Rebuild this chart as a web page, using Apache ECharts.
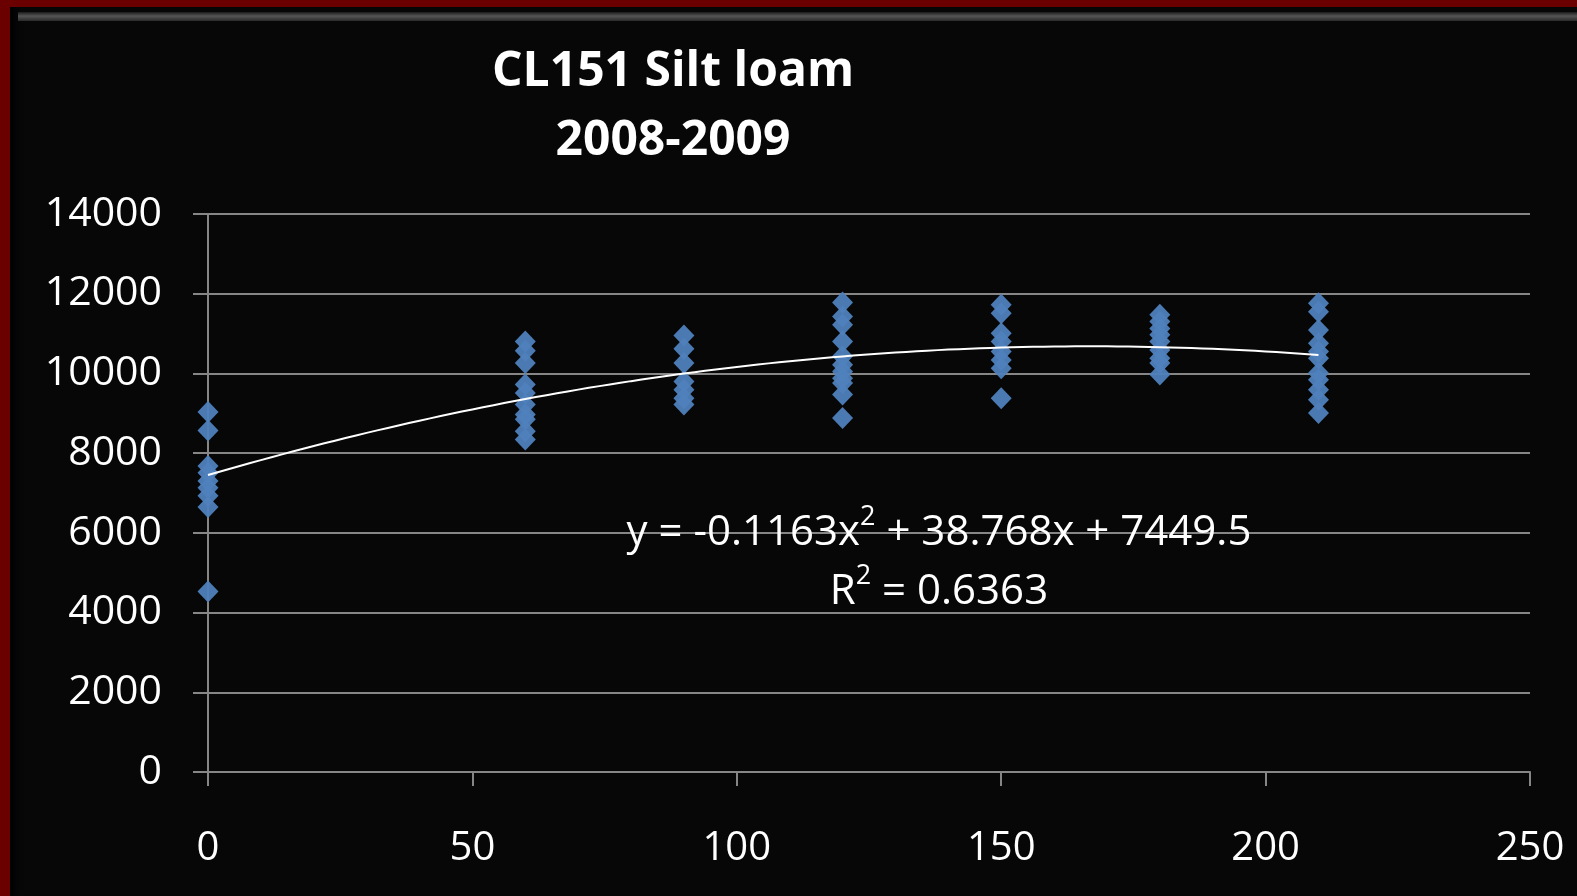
<!DOCTYPE html>
<html>
<head>
<meta charset="utf-8">
<title>CL151 Silt loam 2008-2009</title>
<script src="https://cdn.jsdelivr.net/npm/echarts@6/dist/echarts.min.js"></script>
<style>
  html, body { margin: 0; padding: 0; width: 1577px; height: 896px; background: #6b0000; overflow: hidden; }
  /* black slide panel with a faint bevel on top and left */
  #panel {
    position: absolute; left: 10px; top: 7px; right: 0; bottom: 0;
    background: #070707;
    box-shadow: inset 8px 0 8px -4px #000;
  }
  #bevel {
    position: absolute; left: 18px; top: 12px; right: 0; height: 9px;
    background: linear-gradient(#1a1a1a, #555 45%, #2a2a2a);
  }
  #chart { position: absolute; left: 0; top: 0; width: 1577px; height: 896px; }
</style>
</head>
<body>
<div id="panel"></div>
<div id="bevel"></div>
<div id="chart"></div>
<script>
// nitrogen rates (x) and the yields for each rate
const rates = [0, 60, 90, 120, 150, 180, 210];
const yield0 = [9030, 8570, 7680, 7510, 7300, 7130, 6930, 6650, 4530];
const yield60 = [10800, 10570, 10260, 9720, 9510, 9220, 8970, 8850, 8550, 8340];
const yield90 = [10950, 10620, 10260, 9800, 9590, 9380, 9220];
const yield120 = [11780, 11430, 11220, 10800, 10430, 10220, 10050, 9880, 9760, 9470, 8880];
const yield150 = [11720, 11510, 11010, 10800, 10550, 10340, 10130, 9380];
const yield180 = [11470, 11300, 11130, 10970, 10800, 10590, 10380, 10260, 9970];
const yield210 = [11760, 11550, 11090, 10760, 10550, 10380, 10010, 9840, 9590, 9340, 9010];
const yieldsByRate = [yield0, yield60, yield90, yield120, yield150, yield180, yield210];

// polynomial trendline as printed on the chart: y = a x^2 + b x + c
const trendCoef = [-0.1163, 38.768, 7449.5];
const trendRange = [0, 210];
const rSquared = '0.6363';

const xTicks = [0, 250, 50];
const yTicks = [0, 14000, 2000];

const points = [];
rates.forEach((r, i) => yieldsByRate[i].forEach(v => points.push([r, v])));

const trend = [];
for (let x = trendRange[0]; x <= trendRange[1]; x += 2) {
  trend.push([x, trendCoef[0] * x * x + trendCoef[1] * x + trendCoef[2]]);
}

const font = '"Open Sans", "Noto Sans", sans-serif';
const gray = '#868686';

const chart = echarts.init(document.getElementById('chart'));
chart.setOption({
  backgroundColor: 'transparent',
  animation: false,
  title: {
    text: 'CL151 Silt loam\n2008-2009',
    left: 668,
    top: 33,
    textAlign: 'center',
    textStyle: { color: '#fff', fontFamily: font, fontWeight: 'bold', fontSize: 48, lineHeight: 69 }
  },
  grid: { left: 208, right: 47, top: 214, bottom: 124 },
  xAxis: {
    type: 'value',
    min: xTicks[0], max: xTicks[1], interval: xTicks[2],
    axisLine: { show: true, lineStyle: { color: gray, width: 2 } },
    axisTick: { show: true, inside: false, length: 14, lineStyle: { color: gray, width: 2 } },
    axisLabel: { color: '#fff', fontFamily: font, fontSize: 40, margin: 57 },
    splitLine: { show: false }
  },
  yAxis: {
    type: 'value',
    min: yTicks[0], max: yTicks[1], interval: yTicks[2],
    axisLine: { show: true, onZero: true, lineStyle: { color: gray, width: 2 } },
    axisTick: { show: true, length: 15, lineStyle: { color: gray, width: 2 } },
    axisLabel: { color: '#fff', fontFamily: font, fontSize: 41, margin: 46, formatter: v => String(v) },
    splitLine: { show: true, lineStyle: { color: gray, width: 2 } }
  },
  series: [
    {
      type: 'line',
      data: trend,
      showSymbol: false,
      smooth: false,
      lineStyle: { color: '#fff', width: 2 },
      z: 3
    },
    {
      type: 'scatter',
      data: points,
      symbol: 'diamond',
      symbolSize: [21, 22],
      itemStyle: { color: '#4f81bd', opacity: 0.95 },
      z: 2
    }
  ],
  graphic: [
    {
      type: 'text',
      x: 939,
      y: 563,
      z: 10,
      style: {
        text: '{n|y = ' + trendCoef[0] + 'x}{s|2}{n| + ' + trendCoef[1] + 'x + ' + trendCoef[2] + '}\n{n|R}{s|2}{n| = ' + rSquared + '}',
        align: 'center', verticalAlign: 'middle',
        rich: {
          n: { fill: '#fff', fontFamily: font, fontSize: 42, lineHeight: 59 },
          s: { fill: '#fff', fontFamily: font, fontSize: 27, lineHeight: 59, verticalAlign: 'top', padding: [0, 0, 16, 0] }
        }
      }
    }
  ]
});
</script>
</body>
</html>
